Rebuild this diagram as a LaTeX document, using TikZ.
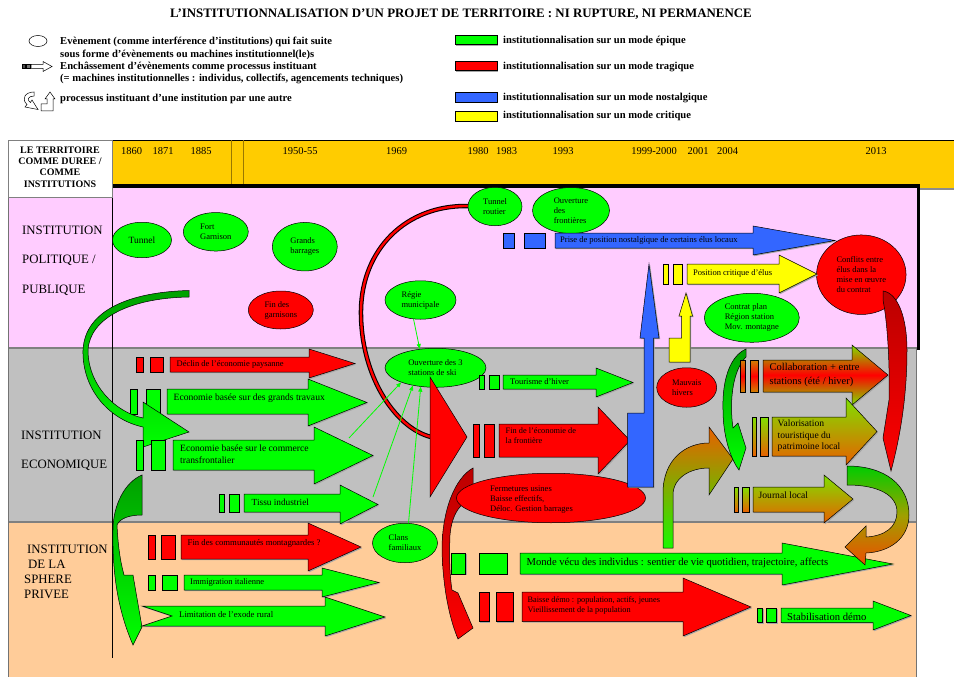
\documentclass[tikz,border=0pt]{standalone}
\usepackage{fontspec}
\setmainfont{Liberation Serif}
\usetikzlibrary{shapes.geometric,arrows.meta}
\definecolor{gn}{HTML}{00FF00}
\definecolor{rd}{HTML}{FF0000}
\definecolor{bl}{HTML}{3366FF}
\definecolor{ye}{HTML}{FFFF00}
\definecolor{pinkbg}{HTML}{FFCCFF}
\definecolor{graybg}{HTML}{C0C0C0}
\definecolor{peachbg}{HTML}{FFCC99}
\definecolor{hdr}{HTML}{FFCC00}
\definecolor{hdrline}{HTML}{9A7800}
\definecolor{dgn}{HTML}{00A000}
\definecolor{drd}{HTML}{BB0000}
\definecolor{lime}{HTML}{80E000}
\definecolor{orng}{HTML}{E86000}
\definecolor{olv}{HTML}{D08000}
\definecolor{olivegrn}{HTML}{A0A000}
\newcommand{\blk}[8]{%
 \path[shadowst] (#2,#3) -- (#5,#3) -- (#5,#6) -- (#8,{(#6+#7)/2}) -- (#5,#7) -- (#5,#4) -- (#2,#4) -- cycle;
 \path[#1] (#2,#3) -- (#5,#3) -- (#5,#6) -- (#8,{(#6+#7)/2}) -- (#5,#7) -- (#5,#4) -- (#2,#4) -- cycle;}
\newcommand{\rc}[5]{%
 \path[shadowst] (#2,#4) rectangle (#3,#5);
 \path[#1] (#2,#4) rectangle (#3,#5);}
\begin{document}
\begin{tikzpicture}[x=1pt,y=-1pt,
 shadowst/.style={fill=black!35, shift={(1.2,1.2)}},
 gnf/.style={fill=gn, draw=black, line width=0.5},
 rdf/.style={fill=rd, draw=black, line width=0.5},
 blf/.style={fill=bl, draw=black, line width=0.5},
 yef/.style={fill=ye, draw=black, line width=0.5},
 collabf/.style={draw=black, line width=0.5, top color=lime, bottom color=lime, middle color=rd},
 collabr/.style={draw=black, line width=0.5, top color=olv, bottom color=olv, middle color=rd},
 valof/.style={draw=black, line width=0.5, top color=lime, bottom color=orng},
 iconf/.style={fill=white, draw=black, line width=0.5},
 ell/.style={ellipse, draw=black, line width=0.5, inner sep=0, align=left, font=\fontsize{8.5}{10}\selectfont},
 lbl/.style={anchor=west, inner sep=0, align=left, font=\fontsize{8.5}{10}\selectfont},
 legtxt/.style={anchor=west, inner sep=0, font=\bfseries\fontsize{10.6}{12}\selectfont},
 yr/.style={inner sep=0, font=\fontsize{10.5}{12}\selectfont},
 rowlbl/.style={anchor=west, inner sep=0, font=\fontsize{12.8}{14}\selectfont},
 gline/.style={draw=gn, line width=0.8, -{Triangle[length=5pt,width=4pt]}}]
\useasboundingbox (0,0) rectangle (954,677);
\fill[white] (0,0) rectangle (954,677);
% ---------- title and legend
\node[font=\bfseries\fontsize{12.9}{14}\selectfont, inner sep=0] (title) at (461,14) {L’INSTITUTIONNALISATION D’UN PROJET DE TERRITOIRE : NI RUPTURE, NI PERMANENCE};
\node[ellipse, draw, line width=0.5, minimum width=18, minimum height=11, inner sep=0] (legell) at (38,41) {};
\node[legtxt] (leg1) at (60,42) {Evènement (comme interférence d’institutions) qui fait suite};
\node[legtxt] (leg2) at (60,54.5) {sous forme d’évènements ou machines institutionnel(le)s};
\path[fill=black!70, draw=black, line width=0.5] (22,64) rectangle (25,68.5);
\path[fill=black!55, draw=black, line width=0.5] (26,64) rectangle (30,68.5);
\path[iconf] (31,64.5) -- (43,64.5) -- (43,61.5) -- (52,66.5) -- (43,71.5) -- (43,68.5) -- (31,68.5) -- cycle;
\node[legtxt] (leg3) at (60,67) {Enchâssement d’évènements comme processus instituant};
\node[legtxt] (leg4) at (60,79) {(= machines institutionnelles : individus, collectifs, agencements techniques)};
\path[iconf] (34,92) .. controls (25,92) and (21,99) .. (27,104.5) -- (25,107) -- (38,109.5) -- (32,100) -- (30.5,102.5) .. controls (26.5,100) and (28,96) .. (34,96) -- cycle;
\path[iconf] (41,111) -- (41,104) -- (47,104) -- (47,99) -- (45,99) -- (50,92) -- (55,99) -- (53,99) -- (53,111) -- cycle;
\node[legtxt] (leg5) at (60,99) {processus instituant d’une institution par une autre};
\rc{gnf}{455}{497}{35}{44.5}
\rc{rdf}{455}{497}{61}{70.5}
\rc{blf}{455}{497}{92.5}{102}
\rc{yef}{455}{497}{111.5}{121}
\node[legtxt] (lg1) at (503,41) {institutionnalisation sur un mode épique};
\node[legtxt] (lg2) at (503,67) {institutionnalisation sur un mode tragique};
\node[legtxt] (lg3) at (503,97.5) {institutionnalisation sur un mode nostalgique};
\node[legtxt] (lg4) at (503,116) {institutionnalisation sur un mode critique};
% ---------- bands
\fill[hdr] (112,140) rectangle (954,188);
\draw[black, line width=0.6] (112,140) -- (954,140);
\draw[black!45, line width=1.2] (920,189) -- (954,189);
\draw[hdrline, line width=1] (231,140) -- (231,185) (243,140) -- (243,185);
\fill[pinkbg] (112,188) rectangle (918,348);
\fill[pinkbg] (8,197) rectangle (112,348);
\fill[graybg] (8,348) rectangle (916.5,522);
\fill[peachbg] (8,522) rectangle (916.5,677);
\draw[black!50, line width=1.2] (8,348) -- (918,348);
\draw[black!50, line width=1.2] (8,522) -- (916.5,522);
\draw[black!55, line width=1] (8,197) -- (8,677);
\draw[black!55, line width=1] (916.5,348) -- (916.5,677);
\draw[line width=4] (112,186) -- (920,186);
\draw[line width=3] (918.5,186) -- (918.5,350);
\draw[black, line width=0.6] (112,140) -- (112,658);
\path[draw=black!50, fill=white, line width=1] (8,140) rectangle (112,197);
\node[inner sep=0, align=center, font=\bfseries\fontsize{10}{11.2}\selectfont] (boxlbl) at (60,167) {LE TERRITOIRE\\COMME DUREE /\\COMME\\INSTITUTIONS};
\node[yr] (y1) at (131.5,151) {1860};
\node[yr] (y2) at (163,151) {1871};
\node[yr] (y3) at (201,151) {1885};
\node[yr] (y4) at (300,151) {1950-55};
\node[yr] (y5) at (396.5,151) {1969};
\node[yr] (y6) at (478,151) {1980};
\node[yr] (y7) at (506.5,151) {1983};
\node[yr] (y8) at (563,151) {1993};
\node[yr] (y9) at (654,151) {1999-2000};
\node[yr] (y10) at (698,151) {2001};
\node[yr] (y11) at (727.5,151) {2004};
\node[yr] (y12) at (876,151) {2013};
\node[rowlbl] (r1a) at (22,230) {INSTITUTION};
\node[rowlbl] (r1b) at (22,260) {POLITIQUE /};
\node[rowlbl] (r1c) at (22,290) {PUBLIQUE};
\node[rowlbl] (r2a) at (21,435) {INSTITUTION};
\node[rowlbl] (r2b) at (21,465) {ECONOMIQUE};
\node[rowlbl] (r3a) at (27,549) {INSTITUTION};
\node[rowlbl] (r3b) at (28,564) {DE LA};
\node[rowlbl] (r3c) at (24,579) {SPHERE};
\node[rowlbl] (r3d) at (24,594) {PRIVEE};
% ---------- red curve from tunnel routier
\coordinate (trl) at (468,206);
\coordinate (trend) at (431,437);
\draw[black, line width=4.5] (trl) .. controls (405,205) and (362,250) .. (361,310) .. controls (360,375) and (395,428) .. (trend);
\draw[rd, line width=2.4] (trl) .. controls (405,205) and (362,250) .. (361,310) .. controls (360,375) and (395,428) .. (trend);
% dark red crescent from Fermetures
\path[draw=black, line width=0.5, top color=drd, bottom color=rd] (473,468) -- (473,497) .. controls (462,502) and (452,512) .. (450,535) .. controls (449,560) and (450,578) .. (452,590) -- (458,593) -- (473,628) -- (458,639) .. controls (450,620) and (443,590) .. (442,550) .. controls (442,510) and (455,478) .. (473,468) -- cycle;
% ---------- ellipses
\node[ell, fill=gn, minimum width=59, minimum height=35.5] (tunnel) at (142,240) {\fontsize{9.5}{11}\selectfont Tunnel};
\node[ell, fill=gn, minimum width=65, minimum height=38.5] (fort) at (215.8,231.8) {Fort\\Garnison};
\node[ell, fill=gn, minimum width=65, minimum height=48.5] (barr) at (304.8,246.7) {Grands\\barrages};
\node[ell, fill=rd, minimum width=65, minimum height=38] (fingar) at (280.8,310) {Fin des\\garnisons};
\node[ell, fill=gn, minimum width=71, minimum height=38.5] (regie) at (420.5,300) {Régie\\municipale};
\node[ell, fill=gn, minimum width=54, minimum height=38.5] (tr) at (495,206.5) {Tunnel\\routier};
\node[ell, fill=gn, minimum width=77, minimum height=46] (front) at (571,210.5) {Ouverture\\des\\frontières};
\node[ell, fill=gn, minimum width=101, minimum height=39] (ouv3) at (435.5,367.8) {Ouverture des 3\\stations de ski};
\node[ell, fill=gn, minimum width=65, minimum height=39.5] (clans) at (405,543) {Clans\\familiaux};
\node[ell, fill=rd, minimum width=189, minimum height=49.5] (ferm) at (551,498) {};
\node[lbl] (fermtxt) at (490,500) {Fermetures usines\\Baisse effectifs,\\Déloc. Gestion barrages};
\node[ell, fill=rd, minimum width=60, minimum height=39.5] (mauv) at (686.7,387.5) {Mauvais\\hivers};
\node[ell, fill=gn, minimum width=95, minimum height=49] (contrat) at (751.8,317.8) {Contrat plan\\Région station\\Mov. montagne};
\node[ell, fill=rd, minimum width=89.5, minimum height=79.5] (confl) at (861.3,274.7) {Conflits entre\\élus dans la\\mise en œuvre\\du contrat};
% big red triangle head of the curve
\path[rdf] (430,377) -- (467,437) -- (430,497) -- cycle;
% ---------- block arrows: politique
\rc{blf}{503}{514}{233}{248}
\rc{blf}{524}{545}{233}{248}
\blk{blf}{555}{233}{248}{753}{226}{255}{835}
\node[lbl] (t_prise) at (560,240) {Prise de position nostalgique de certains élus locaux};
\rc{yef}{663}{668}{264}{284}
\rc{yef}{673}{682}{264}{284}
\blk{yef}{687}{264}{284}{779}{255}{293}{817}
\node[lbl] (t_crit) at (693,273) {Position critique d’élus};
% ---------- block arrows: economique
\rc{rdf}{136}{143}{357}{372}
\rc{rdf}{150}{163}{357}{372}
\blk{rdf}{170}{357}{372}{309}{349}{378}{355}
\node[lbl] (t_declin) at (176.5,364) {Déclin de l’économie paysanne};
\rc{gnf}{130}{137}{389}{414}
\rc{gnf}{146}{160}{389}{414}
\blk{gnf}{167}{389}{414}{308}{379}{426}{367}
\node[lbl, font=\fontsize{9.6}{11}\selectfont] (t_gt) at (173.5,398) {Economie basée sur des grands travaux};
% big green curved arrow politique -> economique
\path[draw=black, line width=0.5, top color=dgn, bottom color=gn] (189,290.5) .. controls (130,292) and (85,310) .. (83,350) .. controls (82,390) and (110,420) .. (143,427) -- (143,447) -- (189,432) -- (143,402) -- (143,418) .. controls (115,412) and (88,385) .. (88,350) .. controls (90,318) and (130,298) .. (189,297) -- cycle;
\rc{gnf}{136}{143}{440}{470}
\rc{gnf}{151}{165}{440}{470}
\blk{gnf}{173}{440}{470}{314}{427}{484}{373}
\node[lbl, font=\fontsize{9.6}{11.7}\selectfont] (t_comm) at (180,454) {Economie basée sur le commerce\\transfrontalier};
\rc{gnf}{219}{224}{494}{512}
\rc{gnf}{229}{239}{494}{512}
\blk{gnf}{244}{494}{512}{340}{485}{524}{378}
\node[lbl, font=\fontsize{9.3}{11}\selectfont] (t_tissu) at (251.5,502) {Tissu industriel};
\rc{gnf}{479}{484}{375}{389}
\rc{gnf}{489}{499}{375}{389}
\blk{gnf}{503}{375}{389}{596}{368}{397}{633}
\node[lbl] (t_tour) at (510,382) {Tourisme d’hiver};
\rc{rdf}{473}{479}{424}{457}
\rc{rdf}{484}{494}{424}{457}
\blk{rdf}{499}{424}{457}{598}{407}{474}{630}
\node[lbl, font=\fontsize{8.3}{10}\selectfont] (t_finfr) at (505.5,436) {Fin de l’économie de\\la frontière};
% left bottom green curved arrow economique -> privee
\path[draw=black, line width=0.5, top color=dgn, bottom color=gn] (142,475) -- (142,515) .. controls (130,515) and (120,518) .. (117,525) .. controls (118,545) and (120,560) .. (124,575) -- (133,575) -- (142,627) -- (133,645) .. controls (120,615) and (112,580) .. (113,530) .. controls (113,505) and (125,482) .. (142,475) -- cycle;
% ---------- block arrows: privee
\rc{rdf}{148}{155}{535}{559}
\rc{rdf}{161}{175}{535}{559}
\blk{rdf}{181}{535}{559}{308}{523}{571}{361}
\node[lbl, font=\fontsize{8.7}{10}\selectfont] (t_comm2) at (187.5,543.5) {Fin des communautés montagnardes ?};
\rc{gnf}{148}{155}{575}{590}
\rc{gnf}{162}{177}{575}{590}
\blk{gnf}{184}{575}{590}{322}{568}{597}{379}
\node[lbl] (t_immig) at (190,582.3) {Immigration italienne};
\path[shadowst] (142,606) -- (325,606) -- (325,597) -- (385,617) -- (325,636) -- (325,626) -- (142,626) -- (172,616) -- cycle;
\path[gnf] (142,606) -- (325,606) -- (325,597) -- (385,617) -- (325,636) -- (325,626) -- (142,626) -- (172,616) -- cycle;
\node[lbl, font=\fontsize{8.7}{10}\selectfont] (t_exode) at (179,614.3) {Limitation de l’exode rural};
\rc{gnf}{451}{465.5}{553}{574}
\rc{gnf}{479}{507}{553}{574}
\blk{gnf}{520}{553}{574}{782}{543}{585}{893}
\node[lbl, font=\fontsize{10.6}{12}\selectfont] (t_monde) at (526.5,562.5) {Monde vécu des individus : sentier de vie quotidien, trajectoire, affects};
\rc{rdf}{479}{489}{592}{621.5}
\rc{rdf}{496}{513}{592}{621.5}
\blk{rdf}{522}{592}{621.5}{683}{578}{636}{751}
\node[lbl, font=\fontsize{8.3}{10}\selectfont] (t_baisse) at (527.5,605) {Baisse démo : population, actifs, jeunes\\Vieillissement de la population};
\rc{gnf}{757}{762.5}{608}{622.5}
\rc{gnf}{766}{776.5}{608}{622.5}
\blk{gnf}{781}{608}{622.5}{873}{601}{630}{911}
\node[lbl, font=\fontsize{10.6}{12}\selectfont] (t_stab) at (787,616.5) {Stabilisation démo};
% ---------- curved arrows right part
\path[draw=black, line width=0.5, top color=orng, bottom color=gn!80!lime] (663,548) -- (663,493) .. controls (663,460) and (685,443) .. (709,443) -- (709,427) -- (733,459) -- (709,495) -- (709,468) .. controls (690,468) and (673,478) .. (673,495) -- (673,548) -- cycle;
\path[draw=black, line width=0.5, top color=dgn, bottom color=gn] (746,349) .. controls (730,356) and (722,380) .. (723,410) .. controls (723,435) and (730,458) .. (739,470) -- (746,448) -- (738,423) -- (733,428) .. controls (729,400) and (733,370) .. (746,357) -- cycle;
\rc{collabr}{740}{745}{360}{392}
\rc{collabr}{750}{758}{360}{392}
\blk{collabf}{763}{360}{392}{852}{345}{405}{888}
\node[lbl, font=\fontsize{10.5}{13.3}\selectfont] (t_collab) at (769.5,375) {Collaboration + entre\\stations (été / hiver)};
\rc{valof}{752}{756}{417}{456}
\rc{valof}{760}{768}{417}{456}
\blk{valof}{772}{417}{456}{846}{398}{465}{877}
\node[lbl, font=\fontsize{9.6}{11.3}\selectfont] (t_valo) at (777.5,435.7) {Valorisation\\touristique du\\patrimoine local};
\rc{valof}{734}{738}{487}{512}
\rc{valof}{742}{749}{487}{512}
\blk{valof}{753}{487}{512}{824}{475}{523}{853}
\node[lbl, font=\fontsize{9.6}{11}\selectfont] (t_journal) at (758.5,495) {Journal local};
% red arrow from Conflits
\path[draw=black, line width=0.5, top color=drd, bottom color=rd] (883,291) .. controls (898,293) and (907,318) .. (907,350) .. controls (907,390) and (902,430) .. (891,471) -- (883,438) -- (889,400) .. controls (890,360) and (887,320) .. (883,300) -- cycle;
% green/orange arrow valorisation -> monde vecu
\path[draw=black, line width=0.5, top color=gn!80!black, bottom color=orng!80!red, middle color=olivegrn] (847,466) .. controls (885,466) and (909,485) .. (909,515) .. controls (909,538) and (890,552) .. (866,553) -- (865,565) -- (845,547) -- (866,526) -- (866,537) .. controls (885,536) and (897,527) .. (897,512) .. controls (897,496) and (880,485) .. (847,485) -- cycle;
% ---------- bent arrows
\path[shadowst] (627.5,487) -- (653.5,487) -- (653.5,338) -- (659,338) -- (649,264) -- (640,338) -- (644,338) -- (644,413) -- (627.5,413) -- cycle;
\path[blf] (627.5,487) -- (653.5,487) -- (653.5,338) -- (659,338) -- (649,264) -- (640,338) -- (644,338) -- (644,413) -- (627.5,413) -- cycle;
\path[shadowst] (669,362) -- (690,362) -- (690,316) -- (692.5,316) -- (686,293) -- (679,316) -- (681.5,316) -- (681.5,338) -- (669,338) -- cycle;
\path[yef] (669,362) -- (690,362) -- (690,316) -- (692.5,316) -- (686,293) -- (679,316) -- (681.5,316) -- (681.5,338) -- (669,338) -- cycle;
% ---------- thin green connectors
\coordinate (commtip) at (349,438);
\coordinate (tissutip) at (373,497);
\draw[gline] (regie.250) -- (ouv3.130);
\draw[gline] (commtip) -- (ouv3.203);
\draw[gline] (tissutip) -- (ouv3.218);
\draw[gline] (clans.80) -- (ouv3.232);
\end{tikzpicture}
\end{document}
